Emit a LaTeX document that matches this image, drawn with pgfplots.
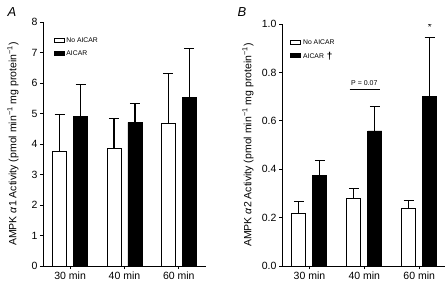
\documentclass[border=0pt]{standalone}
\usepackage{fontspec}
\setmainfont{Liberation Sans}
\usepackage{pgfplots}
\pgfplotsset{compat=1.18}
\newcommand{\tfont}{\fontsize{10.5}{12}\selectfont}
\newcommand{\lfont}{\fontsize{6.8}{8}\selectfont}
\begin{document}
\begin{tikzpicture}
\useasboundingbox (0,0) rectangle (445pt,282pt);
\pgfplotsset{
  panel/.style={
    scale only axis,
    axis lines=left,
    axis line style={-, line width=0.8pt},
    ybar,
    xmin=-0.5,
    xtick={0,1,2},
    xticklabels={30 min,40 min,60 min},
    tick align=outside,
    major tick length=3pt,
    tick style={black, line width=0.8pt},
    ticklabel style={font=\tfont},
    xticklabel style={yshift=1pt},
    yticklabel style={xshift=1pt},
    /pgf/number format/assume math mode=true,
    label style={font=\tfont},
    legend style={draw=none, fill=none, inner sep=0pt, font=\lfont,
      row sep=2.5pt, cells={anchor=west}},
    legend image code/.code={\draw[#1, line width=0.8pt] (0pt,-2pt) rectangle (10pt,2pt);},
    bar width=14pt,
  },
  wbar/.style={fill=white, draw=black, line width=0.9pt, bar shift=-10.5pt,
    error bars/.cd, y dir=plus, y explicit,
    error bar style={line width=1.1pt, black},
    error mark options={rotate=90, line width=1.1pt, mark size=5pt, black}},
  bbar/.style={fill=black, draw=black, line width=0.9pt, bar shift=10.5pt,
    error bars/.cd, y dir=plus, y explicit,
    error bar style={line width=1.1pt, black},
    error mark options={rotate=90, line width=1.1pt, mark size=5pt, black}},
}
% Panel A
\begin{axis}[panel,
  at={(43pt,16pt)}, anchor=south west,
  width=163pt, height=244pt,
  xmax=2.5, ymin=0, ymax=8,
  ytick={0,1,...,8},
  ylabel={AMPK \textit{α}1 Activity (pmol min\textsuperscript{−1} mg protein\textsuperscript{−1})},
  ylabel style={at={(axis description cs:-0.184,0.5)}, anchor=center},
  legend style={at={(0.064,0.945)}, anchor=north west},
]
\addplot[wbar] coordinates {(0,3.77) +- (0,1.19) (1,3.86) +- (0,0.97) (2,4.67) +- (0,1.64)};
\addlegendentry{No AICAR}
\addplot[bbar] coordinates {(0,4.89) +- (0,1.06) (1,4.71) +- (0,0.62) (2,5.52) +- (0,1.62)};
\addlegendentry{AICAR}
\end{axis}
\node[font=\fontsize{13}{13}\selectfont\itshape] at (12pt,270pt) {A};
% Panel B
\begin{axis}[panel,
  at={(282pt,16pt)}, anchor=south west,
  width=163pt, height=242pt,
  xmax=2.47, ymin=0, ymax=1,
  ytick={0,0.2,...,1.0},
  yticklabel style={/pgf/number format/.cd, fixed, fixed zerofill, precision=1},
  ylabel={AMPK \textit{α}2 Activity (pmol min\textsuperscript{−1} mg protein\textsuperscript{−1})},
  ylabel style={at={(axis description cs:-0.209,0.5)}, anchor=center},
  legend style={at={(0.05,0.945)}, anchor=north west},
]
\addplot[wbar] coordinates {(0,0.218) +- (0,0.048) (1,0.28) +- (0,0.04) (2,0.237) +- (0,0.033)};
\addlegendentry{No AICAR}
\addplot[bbar] coordinates {(0,0.373) +- (0,0.062) (1,0.558) +- (0,0.10) (2,0.70) +- (0,0.244)};
\addlegendentry{AICAR\hspace{3pt}\raisebox{-1.5pt}{\fontsize{10}{10}\selectfont\textbf{†}}}
\draw[line width=0.8pt] (axis cs:0.73,0.73) -- (axis cs:1.28,0.73);
\node[font=\fontsize{7}{7}\selectfont, anchor=base] at (axis cs:1,0.745) {P = 0.07};
\node[font=\fontsize{10}{10}\selectfont, anchor=north, xshift=10.5pt] at (axis cs:2,1.015) {*};
\end{axis}
\node[font=\fontsize{13}{13}\selectfont\itshape] at (242pt,270pt) {B};
\end{tikzpicture}
\end{document}
